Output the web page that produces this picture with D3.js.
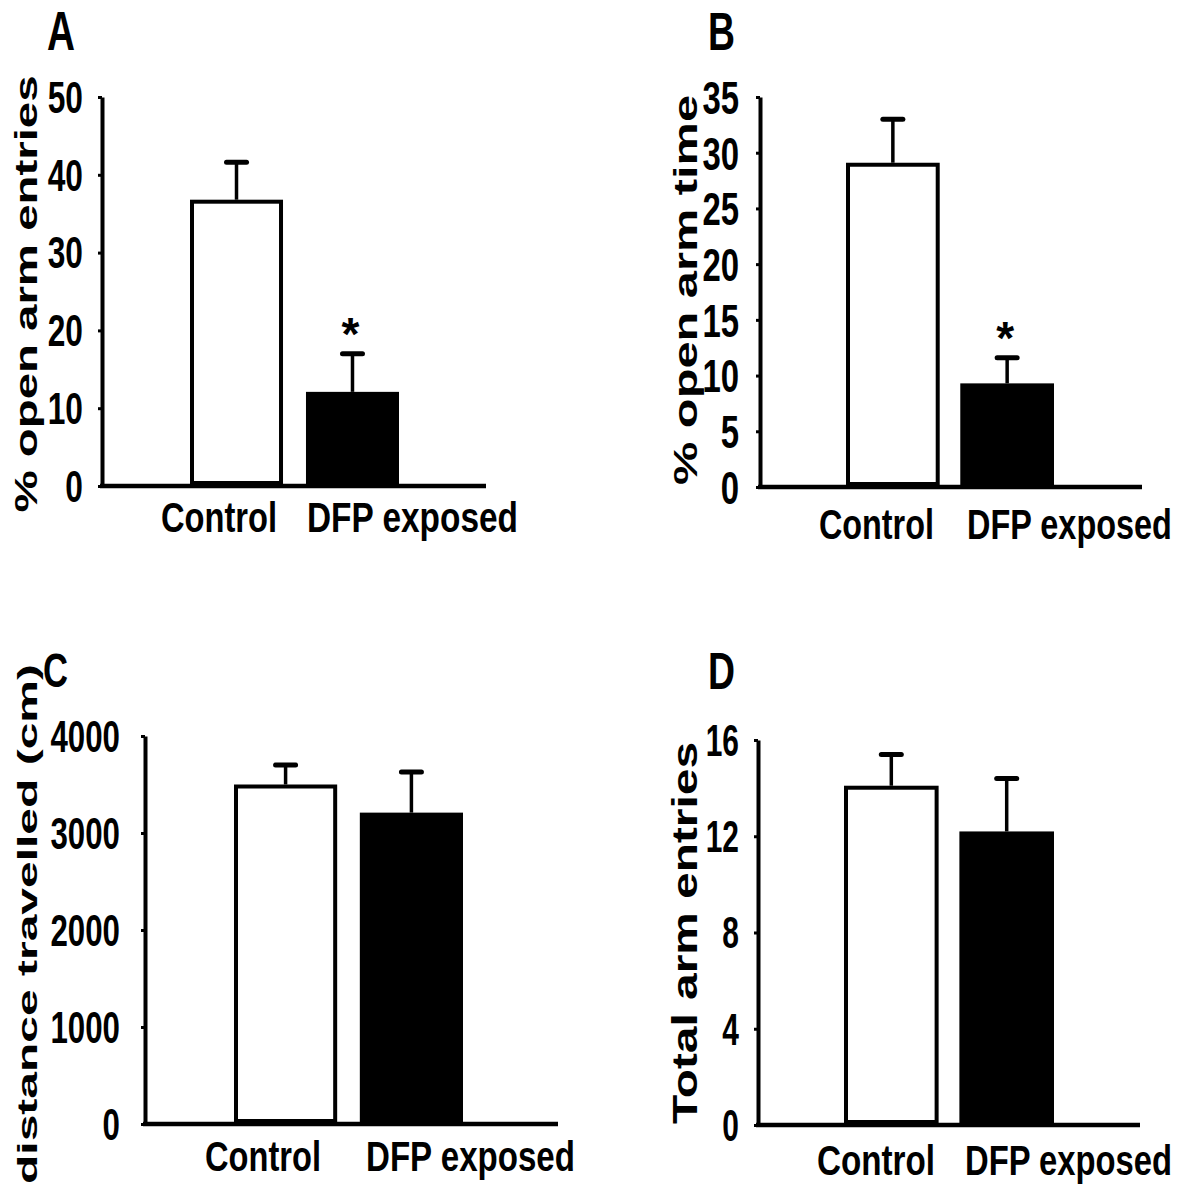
<!DOCTYPE html>
<html>
<head>
<meta charset="utf-8">
<script src="https://cdn.jsdelivr.net/npm/d3@7"></script>
<style>
  body { margin: 0; background: #fff; }
  text { font-family: "Liberation Sans", Arial, sans-serif; font-weight: bold; fill: #000; }
</style>
</head>
<body>
<div id="chart"></div>
<script>
// data
var groups = ["Control", "DFP exposed"];

var entriesPct = [36.8, 12.1],  entriesPctErr = [4.8, 4.9];
var timePct = [29.1, 9.3],      timePctErr = [3.9, 2.3];
var distance = [3500, 3210],    distanceErr = [200, 420];
var totalEntries = [14.1, 12.2], totalEntriesErr = [1.3, 2.2];

var ticksA = [0, 10, 20, 30, 40, 50];
var ticksB = [0, 5, 10, 15, 20, 25, 30, 35];
var ticksC = [0, 1000, 2000, 3000, 4000];
var ticksD = [0, 4, 8, 12, 16];

var letters = ["A", "B", "C", "D"];
var yTitles = ["% open arm entries", "% open arm time", "distance travelled (cm)", "Total arm entries"];
var starred = [[false, true], [false, true], [false, false], [false, false]];

var means = [entriesPct, timePct, distance, totalEntries];
var errs = [entriesPctErr, timePctErr, distanceErr, totalEntriesErr];
var ticks = [ticksA, ticksB, ticksC, ticksD];

// pixel layout of each panel
var layout = [
  {ax: 102, y0: 486, yTop: 97, b0: 190, b1: 399, pad: 0.198, xEnd: 486,
   tickRight: 83, tickFont: 44, tickK: 0.72,
   labCtrl: [161, 277], labDfp: [307, 518], labBase: 532, labFont: 42,
   titleX: 37, titleCy: 294, titleLen: 437, titleFont: 31,
   letX: 47, letW: 28, letBase: 50, letFont: 56},
  {ax: 760, y0: 487, yTop: 97, b0: 846, b1: 1054, pad: 0.18, xEnd: 1142,
   tickRight: 739, tickFont: 47, tickK: 0.7,
   labCtrl: [819, 934], labDfp: [967, 1172], labBase: 539, labFont: 42,
   titleX: 697, titleCy: 290, titleLen: 390, titleFont: 34,
   letX: 708, letW: 27, letBase: 50, letFont: 54},
  {ax: 145, y0: 1124, yTop: 736, b0: 234, b1: 463, pad: 0.18, xEnd: 558,
   tickRight: 120, tickFont: 44, tickK: 0.71,
   labCtrl: [205, 321], labDfp: [366, 575], labBase: 1171, labFont: 43,
   titleX: 37, titleCy: 924, titleLen: 520, titleFont: 28,
   letX: 43, letW: 25, letBase: 687, letFont: 48},
  {ax: 758, y0: 1125, yTop: 740, b0: 844, b1: 1054, pad: 0.18, xEnd: 1140,
   tickRight: 739, tickFont: 44, tickK: 0.68,
   labCtrl: [817, 935], labDfp: [965, 1172], labBase: 1175, labFont: 43,
   titleX: 697, titleCy: 933, titleLen: 382, titleFont: 35,
   letX: 708, letW: 27, letBase: 689, letFont: 52}
];

var svg = d3.select("#chart").append("svg")
    .attr("width", 1188)
    .attr("height", 1188);

function squeeze(sel, k) {
  sel.each(function() {
    var w = this.getComputedTextLength();
    d3.select(this).attr("textLength", w * k).attr("lengthAdjust", "spacingAndGlyphs");
  });
}

// narrow a label to a given width with a horizontal scale
function fitWidth(sel, x0, w, base) {
  sel.each(function() {
    var nat = this.getComputedTextLength();
    d3.select(this).attr("transform",
        "translate(" + x0 + "," + base + ") scale(" + (w / nat) + ",1)");
  });
}

layout.forEach(function(L, i) {
  var g = svg.append("g");
  var tk = ticks[i];

  var y = d3.scaleLinear()
      .domain([0, tk[tk.length - 1]])
      .range([L.y0, L.yTop]);

  var x = d3.scaleBand()
      .domain(groups)
      .range([L.b0, L.b1])
      .paddingInner(L.pad)
      .paddingOuter(0);

  // y axis
  var yAxis = d3.axisLeft(y)
      .tickValues(tk)
      .tickSize(4)
      .tickSizeOuter(0)
      .tickFormat("");
  var ag = g.append("g")
      .attr("transform", "translate(" + L.ax + ",0)")
      .call(yAxis);
  ag.select(".domain").attr("stroke", "#000").attr("stroke-width", 4);
  ag.selectAll(".tick line").attr("stroke", "#000").attr("stroke-width", 3);

  g.selectAll(".ytl")
      .data(tk)
    .enter().append("text")
      .attr("class", "ytl")
      .attr("x", L.tickRight)
      .attr("y", function(d) { return y(d); })
      .attr("dy", "0.36em")
      .attr("text-anchor", "end")
      .style("font-size", L.tickFont + "px")
      .text(function(d) { return d; })
      .call(squeeze, L.tickK);

  var rows = groups.map(function(gr, j) {
    return {group: gr, mean: means[i][j], err: errs[i][j], star: starred[i][j], j: j};
  });

  // error bars first so the bar outline sits on top
  g.selectAll(".eb")
      .data(rows)
    .enter().append("line")
      .attr("x1", function(d) { return x(d.group) + x.bandwidth() / 2; })
      .attr("x2", function(d) { return x(d.group) + x.bandwidth() / 2; })
      .attr("y1", function(d) { return y(d.mean); })
      .attr("y2", function(d) { return y(d.mean + d.err); })
      .attr("stroke", "#000")
      .attr("stroke-width", 3.5);

  g.selectAll(".cap")
      .data(rows)
    .enter().append("line")
      .attr("x1", function(d) { return x(d.group) + x.bandwidth() / 2 - 10; })
      .attr("x2", function(d) { return x(d.group) + x.bandwidth() / 2 + 10; })
      .attr("y1", function(d) { return y(d.mean + d.err); })
      .attr("y2", function(d) { return y(d.mean + d.err); })
      .attr("stroke", "#000")
      .attr("stroke-width", 5)
      .attr("stroke-linecap", "round");

  g.selectAll(".bar")
      .data(rows)
    .enter().append("rect")
      .attr("x", function(d) { return x(d.group) + (d.j === 0 ? 2 : 0); })
      .attr("width", function(d) { return x.bandwidth() - (d.j === 0 ? 4 : 0); })
      .attr("y", function(d) { return y(d.mean) + (d.j === 0 ? 2 : 0); })
      .attr("height", function(d) { return y(0) - y(d.mean) - (d.j === 0 ? 5 : 0); })
      .attr("fill", function(d) { return d.j === 0 ? "#fff" : "#000"; })
      .attr("stroke", "#000")
      .attr("stroke-width", function(d) { return d.j === 0 ? 4 : 0; });

  g.selectAll(".star")
      .data(rows.filter(function(d) { return d.star; }))
    .enter().append("text")
      .attr("x", function(d) { return x(d.group) + x.bandwidth() / 2 - 2; })
      .attr("y", function(d) { return y(d.mean + d.err) - 4; })
      .attr("text-anchor", "middle")
      .style("font-size", "46px")
      .text("*");

  // x baseline
  g.append("line")
      .attr("x1", L.ax - 2)
      .attr("x2", L.xEnd)
      .attr("y1", y(0))
      .attr("y2", y(0))
      .attr("stroke", "#000")
      .attr("stroke-width", 4.5);

  // category labels
  var labs = [L.labCtrl, L.labDfp];
  groups.forEach(function(gr, j) {
    g.append("text")
        .style("font-size", L.labFont + "px")
        .text(gr)
        .call(fitWidth, labs[j][0], labs[j][1] - labs[j][0], L.labBase);
  });

  // y title
  g.append("text")
      .attr("transform", "translate(" + L.titleX + "," + L.titleCy + ") rotate(-90)")
      .attr("text-anchor", "middle")
      .attr("textLength", L.titleLen)
      .attr("lengthAdjust", "spacingAndGlyphs")
      .style("font-size", L.titleFont + "px")
      .text(yTitles[i]);

  // panel letter
  g.append("text")
      .style("font-size", L.letFont + "px")
      .text(letters[i])
      .call(fitWidth, L.letX, L.letW, L.letBase);
});
</script>
</body>
</html>
